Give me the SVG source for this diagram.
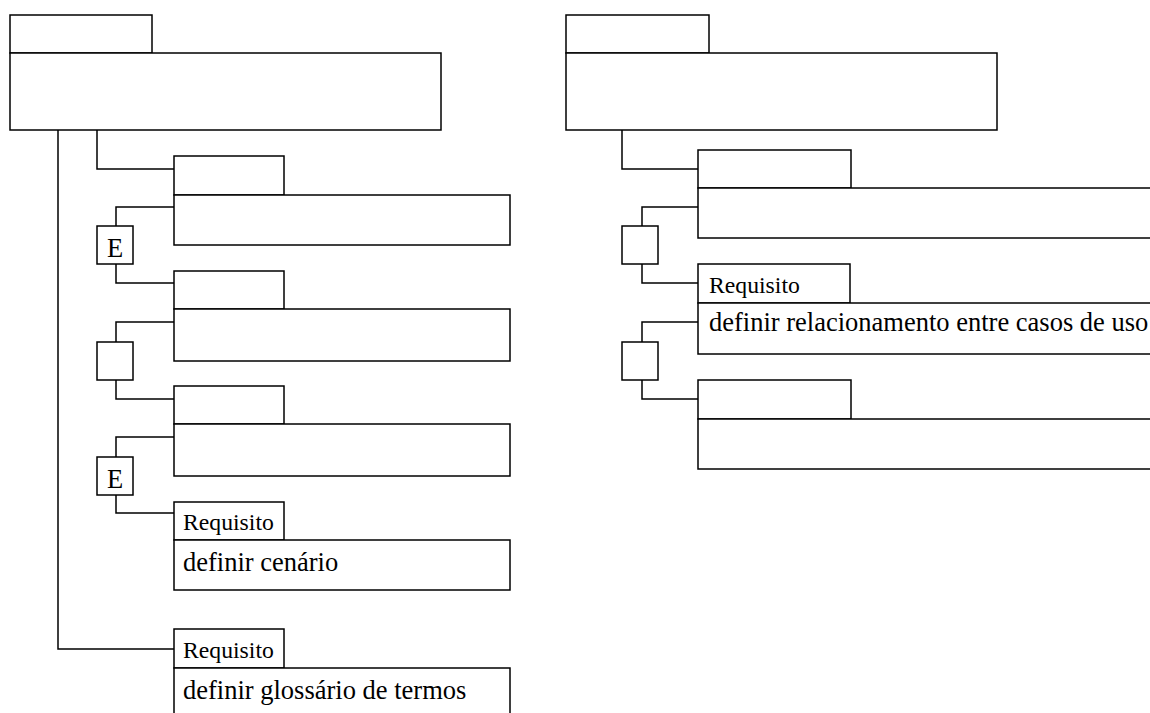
<svg xmlns="http://www.w3.org/2000/svg" width="1150" height="713" viewBox="0 0 1150 713">
  <style>
    .box { fill: #fff; stroke: #000; stroke-width: 1.5; }
    .wire { fill: none; stroke: #000; stroke-width: 1.5; }
    .lbl { font-family: "Liberation Serif", "Times New Roman", serif; font-size: 23.7px; fill: #000; }
    .desc { font-family: "Liberation Serif", "Times New Roman", serif; font-size: 26.5px; fill: #000; }
    .op { font-family: "Liberation Serif", "Times New Roman", serif; font-size: 26.5px; fill: #000; text-anchor: middle; }
  </style>
  <rect width="1150" height="713" fill="#fff"/>

  <!-- connectors -->
  <g id="connectors">
    <!-- left tree -->
    <path class="wire" d="M58,130 V649 H174"/>
    <path class="wire" d="M97,130 V169 H174"/>
    <path class="wire" d="M174,207 H116 V226"/>
    <path class="wire" d="M116,264 V283 H174"/>
    <path class="wire" d="M174,322 H116 V342"/>
    <path class="wire" d="M116,380 V399 H174"/>
    <path class="wire" d="M174,437 H116 V457"/>
    <path class="wire" d="M116,495 V513 H174"/>
    <!-- right tree -->
    <path class="wire" d="M622,130 V169 H698"/>
    <path class="wire" d="M698,207 H642 V226"/>
    <path class="wire" d="M642,264 V283 H698"/>
    <path class="wire" d="M698,322 H642 V342"/>
    <path class="wire" d="M642,380 V399 H698"/>
  </g>

  <!-- left tree nodes -->
  <g id="req-root-left">
    <rect class="box" x="10" y="15" width="142" height="38"/>
    <rect class="box" x="10" y="53" width="431" height="77"/>
  </g>
  <g id="req-l1">
    <rect class="box" x="174" y="156" width="110" height="39"/>
    <rect class="box" x="174" y="195" width="336" height="50"/>
  </g>
  <g id="op-l1">
    <rect class="box" x="97" y="226" width="36" height="38"/>
    <text class="op" x="115" y="257">E</text>
  </g>
  <g id="req-l2">
    <rect class="box" x="174" y="271" width="110" height="38"/>
    <rect class="box" x="174" y="309" width="336" height="52"/>
  </g>
  <g id="op-l2">
    <rect class="box" x="97" y="342" width="36" height="38"/>
  </g>
  <g id="req-l3">
    <rect class="box" x="174" y="386" width="110" height="38"/>
    <rect class="box" x="174" y="424" width="336" height="52"/>
  </g>
  <g id="op-l3">
    <rect class="box" x="97" y="457" width="36" height="38"/>
    <text class="op" x="115" y="488">E</text>
  </g>
  <g id="req-cenario">
    <rect class="box" x="174" y="502" width="110" height="38"/>
    <text class="lbl" x="183" y="530">Requisito</text>
    <rect class="box" x="174" y="540" width="336" height="50"/>
    <text class="desc" x="183" y="571">definir cenário</text>
  </g>
  <g id="req-glossario">
    <rect class="box" x="174" y="629" width="110" height="39"/>
    <text class="lbl" x="183" y="658">Requisito</text>
    <rect class="box" x="174" y="668" width="336" height="60"/>
    <text class="desc" x="183" y="699">definir glossário de termos</text>
  </g>

  <!-- right tree nodes -->
  <g id="req-root-right">
    <rect class="box" x="566" y="15" width="143" height="38"/>
    <rect class="box" x="566" y="53" width="431" height="77"/>
  </g>
  <g id="req-r1">
    <rect class="box" x="698" y="150" width="153" height="38"/>
    <rect class="box" x="698" y="188" width="520" height="50"/>
  </g>
  <g id="op-r1">
    <rect class="box" x="622" y="226" width="36" height="38"/>
  </g>
  <g id="req-relacionamento">
    <rect class="box" x="698" y="264" width="152" height="39"/>
    <text class="lbl" x="709" y="293">Requisito</text>
    <rect class="box" x="698" y="303" width="520" height="51"/>
    <text class="desc" x="709" y="331">definir relacionamento entre casos de uso</text>
  </g>
  <g id="op-r2">
    <rect class="box" x="622" y="342" width="36" height="38"/>
  </g>
  <g id="req-r3">
    <rect class="box" x="698" y="380" width="153" height="39"/>
    <rect class="box" x="698" y="419" width="520" height="50"/>
  </g>
</svg>
